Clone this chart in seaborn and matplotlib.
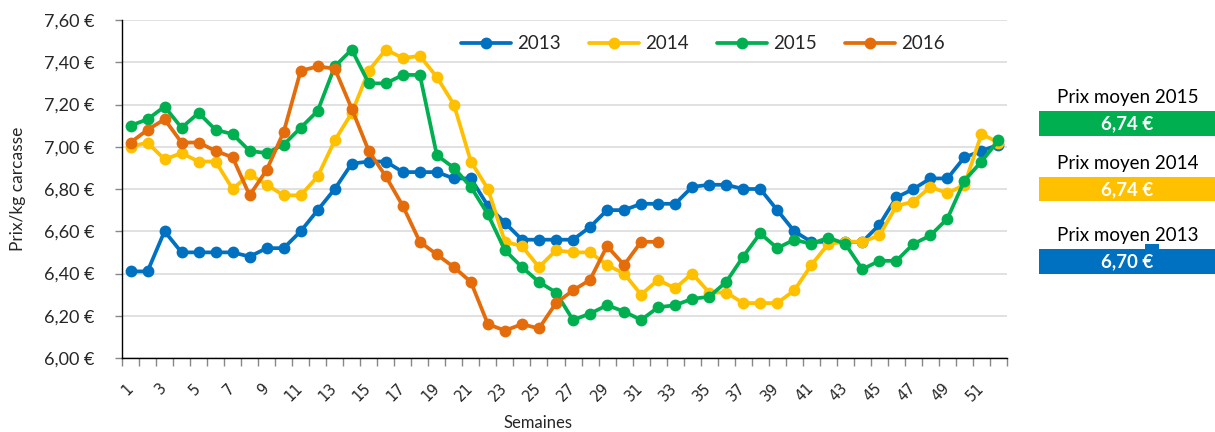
import numpy as np
import pandas as pd
import matplotlib
matplotlib.use("Agg")
from matplotlib import pyplot as plt
from matplotlib.patches import Rectangle
from matplotlib.ticker import FuncFormatter, FixedLocator
import seaborn as sns

# weekly carcass prices (EUR/kg)
weeks = list(range(1, 53))
prix_2013 = [6.41, 6.41, 6.60, 6.50, 6.50, 6.50, 6.50, 6.48, 6.52, 6.52,
             6.60, 6.70, 6.80, 6.92, 6.93, 6.93, 6.88, 6.88, 6.88, 6.85,
             6.85, 6.72, 6.64, 6.56, 6.56, 6.56, 6.56, 6.62, 6.70, 6.70,
             6.73, 6.73, 6.73, 6.81, 6.82, 6.82, 6.80, 6.80, 6.70, 6.60,
             6.55, 6.55, 6.55, 6.55, 6.63, 6.76, 6.80, 6.85, 6.85, 6.95,
             6.98, 7.01]
prix_2014 = [7.00, 7.02, 6.94, 6.97, 6.93, 6.93, 6.80, 6.87, 6.82, 6.77,
             6.77, 6.86, 7.03, 7.16, 7.36, 7.46, 7.42, 7.43, 7.33, 7.20,
             6.93, 6.80, 6.55, 6.53, 6.43, 6.51, 6.50, 6.50, 6.44, 6.40,
             6.30, 6.37, 6.33, 6.40, 6.31, 6.31, 6.26, 6.26, 6.26, 6.32,
             6.44, 6.54, 6.55, 6.55, 6.58, 6.72, 6.74, 6.81, 6.78, 6.82,
             7.06, 7.02]
prix_2015 = [7.10, 7.13, 7.19, 7.09, 7.16, 7.08, 7.06, 6.98, 6.97, 7.01,
             7.09, 7.17, 7.38, 7.46, 7.30, 7.30, 7.34, 7.34, 6.96, 6.90,
             6.81, 6.68, 6.51, 6.43, 6.36, 6.31, 6.18, 6.21, 6.25, 6.22,
             6.18, 6.24, 6.25, 6.28, 6.29, 6.36, 6.48, 6.59, 6.52, 6.56,
             6.54, 6.57, 6.54, 6.42, 6.46, 6.46, 6.54, 6.58, 6.66, 6.84,
             6.93, 7.03]
prix_2016 = [7.02, 7.08, 7.13, 7.02, 7.02, 6.98, 6.95, 6.77, 6.89, 7.07,
             7.36, 7.38, 7.37, 7.18, 6.98, 6.86, 6.72, 6.55, 6.49, 6.43,
             6.36, 6.16, 6.13, 6.16, 6.14, 6.26, 6.32, 6.37, 6.53, 6.44,
             6.55, 6.55]

years = ['2013', '2014', '2015', '2016']
series = [prix_2013, prix_2014, prix_2015, prix_2016]
colors = ['#0070C0', '#FFC000', '#00B050', '#E46C0A']

avg_labels = ['Prix moyen 2015', 'Prix moyen 2014', 'Prix moyen 2013']
avg_values = ['6,74 €', '6,74 €', '6,70 €']
avg_colors = ['#00B050', '#FFC000', '#0070C0']

rows = []
for year, vals in zip(years, series):
    for w, v in zip(weeks, vals):
        rows.append({'Semaine': w, 'Prix': v, 'Année': year})
df = pd.DataFrame(rows)

sns.set_theme(style="white", rc={
    "axes.linewidth": 1.0,
    "axes.edgecolor": "black",
    "grid.color": "#D9D9D9",
    "grid.linewidth": 1.1,
})
plt.rcParams['font.family'] = ['Lato', 'DejaVu Sans']

W, H = 1215, 432
fig = plt.figure(figsize=(W / 100, H / 100), dpi=100)
ax = fig.add_axes([122 / W, 1 - 358 / H, 885 / W, 338 / H])

sns.lineplot(data=df, x='Semaine', y='Prix', hue='Année',
             palette=dict(zip(years, colors)), marker='o', markersize=8.5,
             markeredgewidth=0, linewidth=2.7, ax=ax, sort=False)

ax.set_xlim(0.5, 52.5)
ax.set_ylim(6.0, 7.6)
ax.set_yticks(np.arange(6.0, 7.61, 0.2))
ax.yaxis.set_major_formatter(FuncFormatter(lambda v, p: f"{v:.2f} €".replace('.', ',')))
ax.yaxis.grid(True)
ax.set_axisbelow(True)
ax.tick_params(axis='y', left=True, length=5, width=1, color='#888888',
               labelsize=13, pad=15)

ax.xaxis.set_major_locator(FixedLocator(list(range(1, 53, 2))))
ax.set_xticklabels([str(w) for w in range(1, 53, 2)])
ax.xaxis.set_minor_locator(FixedLocator(np.arange(0.5, 53, 1.0)))
ax.tick_params(axis='x', which='major', bottom=True, length=0, pad=20)
ax.tick_params(axis='x', which='minor', bottom=True, length=6, width=1,
               color='#888888')
for lab in ax.get_xticklabels():
    lab.set_rotation(45)
    lab.set_ha('right')
    lab.set_va('center')
    lab.set_rotation_mode('anchor')
    lab.set_family('DejaVu Sans')
    lab.set_fontsize(10.5)

for side in ['top', 'right']:
    ax.spines[side].set_visible(False)

ax.set_ylabel('Prix/kg carcasse', fontsize=12.5)
ax.yaxis.label.set_va('center')
ax.yaxis.set_label_coords(-104 / 885, 0.5)
ax.set_xlabel('Semaines', fontsize=12)
ax.xaxis.label.set_va('center')
ax.xaxis.set_label_coords((538 - 122) / 885, -(423 - 358) / 338)

handles, labels = ax.get_legend_handles_labels()
ax.legend(handles, labels, ncol=4, frameon=False, loc='center',
          bbox_to_anchor=(0.656, 0.929), handlelength=2.7, columnspacing=1.5,
          handletextpad=0.3, fontsize=13.5)

# side panel with average prices
def fx(x):
    return x / W

def fy(y):
    return 1 - y / H

text_y = [98, 163, 236]
box_top = [111, 177, 249]
for lbl, val, col, ty, bt in zip(avg_labels, avg_values, avg_colors, text_y, box_top):
    fig.text(fx(1128), fy(ty), lbl, ha='center', va='center', fontsize=13.5,
             color='black')
    fig.add_artist(Rectangle((fx(1039), fy(bt + 24.5)), fx(176), 24.5 / H,
                             transform=fig.transFigure, facecolor=col,
                             edgecolor='none'))
    fig.text(fx(1127), fy(bt + 12.5), val, ha='center', va='center',
             fontsize=13.5, fontweight='bold', color='white')
# small notch above the 2013 box
fig.add_artist(Rectangle((fx(1145), fy(249.5)), fx(14), 6 / H,
                         transform=fig.transFigure, facecolor='#0070C0',
                         edgecolor='none'))

fig.savefig('out.png', dpi=100)
